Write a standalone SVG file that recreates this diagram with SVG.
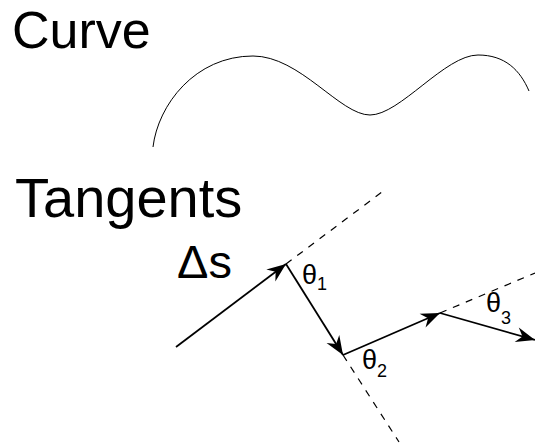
<svg xmlns="http://www.w3.org/2000/svg" width="535" height="445" viewBox="0 0 535 445">
<style>
.lbl{font-family:"Liberation Sans",Arial,sans-serif;fill:#000}
.vec{stroke:#000;stroke-width:1.8;fill:none;marker-end:url(#ah)}
.dash{stroke:#000;stroke-width:1.2;fill:none;stroke-dasharray:7,7}
</style>
<defs>
<marker id="ah" markerUnits="userSpaceOnUse" markerWidth="24" markerHeight="20" viewBox="-20 -10 24 20" refX="0" refY="0" orient="auto" overflow="visible">
<path d="M0,0 L-19,-7.5 L-13,0 L-19,7.5 Z" fill="#000"/>
</marker>
</defs>
<rect width="535" height="445" fill="#fff"/>
<g id="title-curve"><text class="lbl" x="12" y="48" font-size="52">Curve</text></g>
<g id="curve"><path d="M153,147 C158,105 195,56 253,56 C300,56 340,115 370,115 C400,115 445,55 478,55 C505,55 520,70 529,91" fill="none" stroke="#000" stroke-width="1"/></g>
<g id="title-tangents"><text class="lbl" x="15" y="217" font-size="56">Tangents</text></g>
<g id="label-ds"><text class="lbl" x="177" y="278" font-size="47">Δs</text></g>
<g id="connectors">
<line class="dash" x1="286" y1="264" x2="386" y2="189"/>
<line class="dash" x1="343" y1="355" x2="399" y2="442"/>
<line class="dash" x1="440" y1="313" x2="535" y2="273"/>
<line class="vec" x1="176" y1="347" x2="286" y2="264"/>
<line class="vec" x1="286" y1="264" x2="343" y2="355"/>
<line class="vec" x1="343" y1="355" x2="440" y2="313"/>
<line class="vec" x1="440" y1="313" x2="535" y2="340"/>
</g>
<g id="theta1"><text class="lbl" x="302" y="284" font-size="27">θ<tspan font-size="18" dy="6">1</tspan></text></g>
<g id="theta2"><text class="lbl" x="362" y="369" font-size="27">θ<tspan font-size="18" dy="8">2</tspan></text></g>
<g id="theta3"><text class="lbl" x="486" y="312" font-size="27">θ<tspan font-size="18" dy="12">3</tspan></text></g>
</svg>
